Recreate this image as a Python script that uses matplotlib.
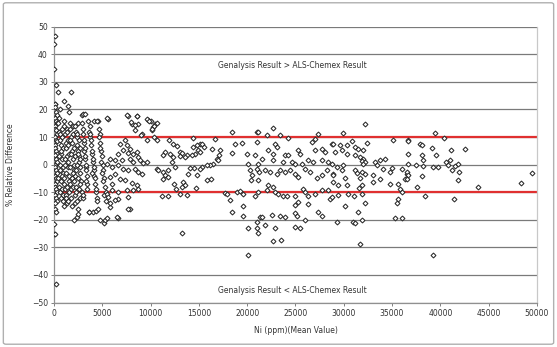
import matplotlib.pyplot as plt
from matplotlib.patches import FancyBboxPatch

# outliers near the axis
ni_out = [100, 0, 0, 200, 450, 1720, 1480, 1000, 150, 620, 0, 80, 0, 200, 2070, 2350, 2520,
          3660, 4000, 4380, 4760, 5170, 6590, 7870, 20100, 39200, 13280]
diff_out = [46.8, 43.8, 34.6, 29.0, 26.4, 26.5, 21.1, 22.9, 22.0, 20.3, -25.0, -25.2, -21.4,
            -43.4, -20.2, -19.0, -17.8, -17.2, -17.2, -16.8, -20.2, -21.0, -19.2, -16.2,
            -32.9, -32.9, -24.8]

# dense column at very low grade
ni_col = [50, 150, 250, 350, 100, 200, 300, 50, 150, 250, 350, 100, 200, 300, 50, 150, 250,
          350, 100, 200, 300, 50, 150, 250, 350, 100, 200, 300, 50, 150, 250, 350, 100, 200,
          300, 50, 150, 250]
diff_col = [22, 21, 19, 18, 17, 16, 15, 14, 13, 12.5, 11, 10, 9, 8.5, 7, 6, 5, 4, 3.5, 2, 1,
            0, -1, -2, -3, -4, -5, -6, -7, -8, -9, -10, -11, -12, -13, -14, -16, -17]

# 400 - 5500 ppm
ni_low = [450, 520, 600, 680, 750, 820, 900, 970, 430, 560, 640, 710, 790, 860, 940, 480, 580,
          660, 740, 830, 910, 990, 500, 620, 730, 850, 960,
          1020, 1080, 1150, 1210, 1270, 1330, 1400, 1460, 1520, 1580, 1050, 1120, 1190, 1250,
          1320, 1390, 1450, 1540, 1100, 1230, 1360, 1480, 1560, 1300, 1420, 1170, 1010, 1590,
          1620, 1690, 1750, 1820, 1890, 1950, 2020, 2080, 2150, 1660, 1730, 1800, 1870, 1940,
          2010, 2090, 2170, 1700, 1850, 1990, 2120, 2190, 1640, 1780, 1920, 2060,
          2220, 2290, 2350, 2420, 2480, 2550, 2610, 2680, 2740, 2800, 2250, 2320, 2390, 2460,
          2530, 2600, 2670, 2740, 2270, 2440, 2580, 2720, 2380, 2500, 2330, 2650,
          2850, 2920, 3000, 3080, 3150, 3230, 3300, 3380, 3450, 2880, 2960, 3050, 3120, 3200,
          3280, 3360, 3430, 3020, 3170, 3340,
          3550, 3640, 3730, 3820, 3910, 4000, 4090, 4180, 4270, 4360, 4450, 3600, 3700, 3800,
          3900, 4050, 4150, 4250, 4350, 4420, 3680, 3950,
          4550, 4630, 4710, 4790, 4870, 4950, 5030, 5110, 5190, 5270, 5350, 5430, 4600, 4680,
          4760, 4840, 4920, 5050, 5200, 5320]
diff_low = [15, 12, 9, 7, 4, 2, -1, -3, -5, -8, -10, -12, 13, 10, 6, 3, 0, -2, -6, -9, -13,
            -15, 17, 11, 5, -4, -11,
            16, 14, 11, 8, 6, 3, 1, -1, -4, -6, -7, -9, -11, -12, -14, 13, 9, 4, 0, -3, -8,
            -13, 19, 12, 7, 2, -5, -10,
            15, 13, 10, 8, 5, 2, 0, -2, -4, -7, -9, -12, -15, 14, 11, 6, 3, -1, -5, -8, -11,
            -14, 9, 4, -3, -6,
            14, 12, 10, 7, 5, 3, 1, -1, -3, -6, -8, -10, -13, -16, 15, 9, 6, 2, -2, -5, -9,
            -12, 11, 4, 0, -7,
            18, 15, 11, 8, 5, 2, -1, -4, -7, -10, -12, 13, 9, 3, -2, -6, -9, -11, 6, 0,
            16, 12, 10, 7, 4, 1, -2, -4, -7, -10, -12, -17, 14, 9, 5, 2, -1, -5, -9, -13, 11,
            -3,
            16, 13, 11, 8, 5, 3, 0, -2, -5, -8, -10, -13, -16, 10, 6, 1, -3, -6, -11, -20]

# 5500 - 13000 ppm
ni_mid = [5630, 7630, 8630, 8040, 8660, 8390, 9700, 10040, 10460, 10280, 10110, 9080, 9590,
          10390, 10630, 11900, 12350, 12700, 11490, 11320, 12010, 12350, 12180, 13040, 13040,
          12530, 11830, 11320, 11490, 10630, 10800, 11320, 11830, 12460, 12590, 13040, 11210,
          11830, 6490, 7700, 5450, 5800, 2970, 3200, 4170, 4500, 5520, 7590, 8560, 8000,
          8380, 9590, 9800, 10630, 10350, 10100, 9000,
          7350, 6830, 7520, 7870, 7180, 6660, 7700, 8210, 8560, 8730, 8900, 9250, 9590, 8210,
          7870, 7000, 6320, 5800, 5450, 5970, 6660, 7180, 7700, 8390, 8730, 9080, 6320, 5800,
          6830, 7350, 8040, 8560, 8730, 8210, 7520, 6660, 5970, 5450, 6590, 6320, 5800, 5970,
          7700, 5630]
diff_mid = [16.6, 17.8, 17.5, 14.8, 14.8, 12.7, 16.3, 15.8, 14.8, 13.6, 12.7, 11.0, 9.0,
            10.0, 8.8, 8.8, 7.6, 6.6, 4.6, 3.4, 4.0, 2.8, 1.0, 4.6, 3.0, -0.8, -2.0, -2.7,
            -3.9, -1.4, -2.0, -5.1, -4.5, -6.9, -9.0, -10.5, -11.4, -11.4, -18.9, -15.9,
            -19.5, -15.3, 18.5, 18.2, 16.0, 16.0, 16.9, 17.9, 17.5, 15.5, 14.2, 16.4, 15.9,
            15.1, 13.9, 13.0, 10.6,
            8.8, 7.6, 7.0, 5.8, 5.2, 4.0, 4.2, 3.7, 4.6, 2.8, 1.6, 0.6, 1.0, 1.0, 2.2, 1.8,
            1.6, 2.2, 0.4, -0.8, -0.2, -1.4, -2.0, -1.4, -2.7, -3.3, -3.3, -4.5, -5.1, -5.7,
            -6.6, -7.5, -8.7, -9.3, -9.3, -9.9, -9.3, -10.5, -12.3, -12.9, -13.9, -6.9,
            -11.7, -11.7]

# 13000 - 21500 ppm
ni_hi1 = [14420, 16660, 18390, 21040, 15110, 15350, 14770, 14420, 15520, 14940, 14590, 15110,
          14250, 13730, 13210, 13560, 16320, 17180, 17110, 16900, 17010, 16490, 16150, 15800,
          15280, 15110, 14490, 14080, 13900, 14770, 15800, 16210, 13390, 13560, 13210, 14700,
          13800, 17700, 17870, 18910, 19250, 19530, 18220, 19530, 18390, 19600, 20110, 18730,
          19420, 18390, 19940, 20110, 20280, 20460, 20350, 20800, 20800, 20980, 21150, 21250,
          21320, 21040, 21040]
diff_hi1 = [9.8, 9.4, 11.9, 11.9, 7.6, 7.6, 7.0, 6.4, 6.4, 5.4, 4.0, 4.6, 3.4, 3.4, 4.2, 2.8,
            5.8, 5.4, 3.4, 2.2, 1.6, 0.1, -0.2, -0.2, -0.8, -1.4, -1.1, -1.1, -3.3, -3.9,
            -5.7, -5.3, -6.3, -7.5, -8.1, -8.4, -11.1, -10.2, -10.7, -9.9, -9.6, -10.5,
            -12.7, -15.1, -17.1, -18.7, -22.8, 7.6, 7.8, 4.2, 4.0, 0.4, -2.0, -3.9, -5.7,
            -11.4, 3.4, 8.2, 0.4, -2.7, -18.9, -20.7, -22.8]

# 21000 - 29000 ppm
ni_hi2 = [22700, 22010, 23390, 24250, 21150, 27360, 27010, 26670, 22870, 23040, 22180, 22700,
          23910, 24250, 25290, 25460, 27010, 27700, 28050, 28740, 21490, 22700, 23730, 24600,
          24940, 25630, 26320, 26840, 27700, 28390, 20970, 21840, 22350, 23040, 23390, 23910,
          24420, 24940, 25290, 25980, 26490, 27180, 27700, 28220, 28910, 21150, 22180, 22700,
          22010, 21150, 22870, 23220, 23730, 24080, 24940, 25810, 25980, 26320, 27010, 27700,
          28390, 28560, 25290, 24940, 26320, 21490, 22520, 23390, 23910, 24940, 25110, 25980,
          27360, 27700, 21840, 21150, 22870, 24940, 25460, 22700, 23490]
diff_hi2 = [13.4, 10.8, 10.6, 9.8, 12.0, 11.1, 9.4, 8.2, 7.6, 6.4, 5.2, 4.0, 3.4, 3.4, 5.2,
            4.0, 5.2, 5.8, 4.6, 7.6, 2.2, 1.6, 1.0, 1.0, 0.4, 0.4, 1.6, 1.0, 1.6, 1.0, -1.4,
            -2.0, -2.7, -3.3, -1.8, -2.7, -2.0, -3.3, -4.5, -1.4, -2.7, -4.7, -3.9, -2.0,
            -3.3, -5.7, -7.5, -8.1, -9.3, -9.9, -9.9, -10.5, -11.4, -11.4, -11.4, -8.7,
            -9.9, -11.4, -10.5, -9.3, -9.3, -12.3, -13.5, -14.7, -14.1, -18.9, -18.3, -18.7,
            -18.9, -17.7, -18.7, -19.9, -17.1, -18.7, -21.9, -24.7, -22.8, -22.5, -22.8,
            -27.6, -27.3]

# 28500 - 36700 ppm
ni_hi3 = [32190, 29880, 35130, 36680, 32430, 28920, 29610, 30300, 30810, 31160, 31500, 31950,
          29090, 29780, 30300, 31160, 31680, 32020, 31850, 32190, 32020, 33230, 33750, 34260,
          33400, 34090, 34950, 34780, 35990, 36500, 28740, 29260, 29950, 29780, 31160, 31330,
          31850, 32190, 28920, 30120, 31680, 32990, 33750, 33060, 28920, 29430, 30300, 31850,
          31610, 34780, 35640, 36330, 35810, 35990, 28740, 29430, 30470, 31020, 31850, 30120,
          32190, 35470, 35640, 31500, 29260, 30990, 31160, 31850, 35300, 35990, 31680]
diff_hi3 = [14.8, 11.6, 8.8, 8.8, 8.0, 7.6, 7.0, 7.2, 8.6, 6.4, 5.8, 5.4, 4.6, 5.2, 3.7, 3.4,
            2.8, 2.2, 1.3, 1.0, 0.4, 1.0, 1.6, 2.2, -0.2, -1.4, -1.1, -2.7, -1.4, -3.3, 0.1,
            -0.8, -0.2, -2.0, -2.0, -3.0, -2.7, -3.3, -3.9, -4.7, -4.7, -3.9, -5.1, -6.3,
            -6.3, -7.5, -7.5, -7.5, -8.3, -7.1, -7.1, -5.1, -8.7, -9.9, -11.7, -11.1, -10.5,
            -11.4, -10.5, -15.1, -13.9, -13.9, -12.3, -17.1, -20.7, -20.7, -21.3, -20.1,
            -19.5, -19.2, -28.8]

# above 36000 ppm
ni_top = [39440, 40400, 36680, 37880, 38120, 39090, 41090, 42540, 36680, 38060, 39500, 38230,
          36680, 37430, 38230, 39260, 39710, 40540, 40990, 40820, 41510, 41850, 41160, 41920,
          36500, 36610, 36500, 38120, 41780, 37540, 43850, 38400, 41440, 49510, 48300]
diff_top = [11.6, 9.8, 8.6, 7.6, 7.0, 6.1, 5.4, 5.8, 3.7, 3.4, 3.4, 1.6, 0.4, -0.2, -0.6,
            -0.8, -0.8, 1.0, 1.6, -0.2, -0.6, 0.1, -1.8, -2.7, -2.7, -3.9, -5.1, -4.2, -5.4,
            -8.1, -8.1, -11.4, -12.3, -3.0, -6.6]

ni = ni_out + ni_col + ni_low + ni_mid + ni_hi1 + ni_hi2 + ni_hi3 + ni_top
diff = diff_out + diff_col + diff_low + diff_mid + diff_hi1 + diff_hi2 + diff_hi3 + diff_top

y_ticks = list(range(-50, 51, 10))
x_ticks = list(range(0, 50001, 5000))
limit = 10

fig = plt.figure(figsize=(5.57, 3.47), dpi=100)
ax = fig.add_axes([0.097, 0.128, 0.867, 0.795])

for y in y_ticks:
    ax.axhline(y, color='#7a7a7a', lw=0.9, zorder=1)
ax.axhline(limit, color='#e03030', lw=1.6, zorder=2)
ax.axhline(-limit, color='#e03030', lw=1.6, zorder=2)

ax.plot(ni, diff, linestyle='none', marker='D', markersize=2.5, markerfacecolor='white',
        markeredgecolor='#2a2a2a', markeredgewidth=0.75, zorder=3)

ax.set_xlim(0, 50000)
ax.set_ylim(-50, 50)
ax.set_xticks(x_ticks)
ax.set_yticks(y_ticks)
ax.tick_params(labelsize=5.5, length=2.5, width=0.7, color='#808080', pad=2,
               labelcolor='#333333')
for side in ['left', 'bottom', 'right']:
    ax.spines[side].set_color('#909090')
    ax.spines[side].set_linewidth(0.9)
ax.spines['right'].set_color('#c8c8c8')
ax.spines['top'].set_visible(False)

ax.text(24700, 36, 'Genalysis Result > ALS-Chemex Result', ha='center', va='center',
        fontsize=5.5, color='#333333')
ax.text(24700, -45.5, 'Genalysis Result < ALS-Chemex Result', ha='center', va='center',
        fontsize=5.5, color='#333333')
ax.set_xlabel('Ni (ppm)(Mean Value)', fontsize=5.5, color='#333333', labelpad=6)
ax.set_ylabel('% Relative Difference', fontsize=5.5, color='#333333', labelpad=12)

fig.patches.append(FancyBboxPatch((0.006, 0.008), 0.988, 0.984, boxstyle='round,pad=0,rounding_size=0.005',
                                  transform=fig.transFigure, fill=False,
                                  edgecolor='#b0b0b0', lw=1.0))

fig.savefig('out.png', dpi=100)
